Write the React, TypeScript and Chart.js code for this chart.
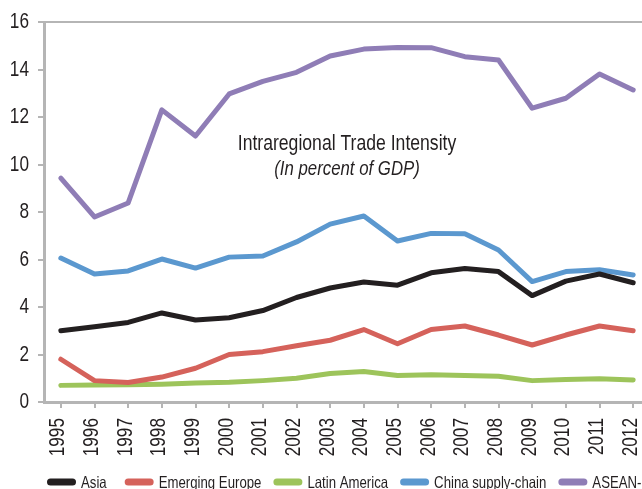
import React, { useEffect, useRef } from "react";
import { Chart, registerables } from "chart.js";

Chart.register(...registerables);

const years = ["1995","1996","1997","1998","1999","2000","2001","2002","2003","2004","2005","2006","2007","2008","2009","2010","2011","2012"];
const asia = [3.0, 3.17, 3.35, 3.75, 3.45, 3.55, 3.85, 4.4, 4.8, 5.05, 4.92, 5.44, 5.62, 5.49, 4.48, 5.09, 5.39, 5.02];
const emergingEurope = [1.8, 0.9, 0.82, 1.05, 1.42, 2.0, 2.12, 2.37, 2.6, 3.05, 2.45, 3.05, 3.2, 2.82, 2.4, 2.82, 3.2, 3.0];
const latinAmerica = [0.7, 0.72, 0.73, 0.75, 0.8, 0.83, 0.9, 1.0, 1.2, 1.28, 1.12, 1.15, 1.12, 1.08, 0.9, 0.95, 0.98, 0.93];
const chinaSupply = [6.06, 5.39, 5.52, 6.02, 5.64, 6.1, 6.15, 6.74, 7.49, 7.83, 6.78, 7.1, 7.08, 6.4, 5.07, 5.49, 5.57, 5.35];
const asean5 = [9.43, 7.79, 8.38, 12.3, 11.2, 12.97, 13.5, 13.88, 14.57, 14.86, 14.93, 14.92, 14.54, 14.4, 12.37, 12.79, 13.81, 13.14];

const seriesNames = ["Asia", "Emerging Europe", "Latin America", "China supply-chain", "ASEAN-5"];
const seriesColors = ["#231f20", "#d5625b", "#9dc45b", "#5b98cf", "#8f7db6"];
const seriesData = [asia, emergingEurope, latinAmerica, chinaSupply, asean5];

const titleLine1 = "Intraregional Trade Intensity";
const titleLine2 = "(In percent of GDP)";

const FONT = '"Liberation Sans", Arial, sans-serif';
const SX = 0.8; // horizontal compression to imitate a condensed face
const GRAY = "#b5b5b5";
const TEXT = "#231f20";

function drawText(ctx: any, text: string, x: number, y: number, opts: { align: string; baseline?: string; rot?: number; font: string }) {
  ctx.save();
  ctx.translate(x, y);
  if (opts.rot) ctx.rotate(opts.rot);
  ctx.scale(SX, 1);
  ctx.font = opts.font;
  ctx.textAlign = opts.align;
  ctx.textBaseline = opts.baseline || "alphabetic";
  ctx.fillText(text, 0, 0);
  ctx.restore();
}

const overlayPlugin = {
  id: "overlay",
  afterDraw(chart: any) {
    const { ctx, chartArea } = chart;
    const xs = chart.scales.x;
    const ys = chart.scales.y;
    ctx.save();
    // top border
    ctx.strokeStyle = GRAY;
    ctx.lineWidth = 2;
    ctx.beginPath();
    ctx.moveTo(chartArea.left - 1.5, chartArea.top);
    ctx.lineTo(chartArea.right, chartArea.top);
    ctx.stroke();
    ctx.fillStyle = TEXT;
    // y tick labels
    ys.ticks.forEach((t: any, i: number) => {
      const py = ys.getPixelForTick(i);
      drawText(ctx, String(t.value), chartArea.left - 15, py + 0.5, { align: "right", baseline: "middle", font: `21.5px ${FONT}` });
    });
    // x tick labels
    years.forEach((lab, i) => {
      const px = xs.getPixelForTick(i);
      drawText(ctx, lab, px - 2.5, chartArea.bottom + 16, { align: "right", baseline: "middle", rot: -Math.PI / 2, font: `21.5px ${FONT}` });
    });
    // title
    const cx = (chartArea.left + chartArea.right) / 2;
    drawText(ctx, titleLine1, cx, chartArea.top + 128, { align: "center", font: `22px ${FONT}` });
    drawText(ctx, titleLine2, cx, chartArea.top + 153, { align: "center", font: `italic 21px ${FONT}` });
    // legend
    let lx = 47;
    const ly = 482;
    const lfont = `16.5px ${FONT}`;
    seriesNames.forEach((n, i) => {
      ctx.strokeStyle = seriesColors[i];
      ctx.lineWidth = 7;
      ctx.lineCap = "round";
      ctx.beginPath();
      ctx.moveTo(lx + 3.5, ly);
      ctx.lineTo(lx + 29 - 3.5, ly);
      ctx.stroke();
      lx += 34;
      ctx.fillStyle = TEXT;
      drawText(ctx, n, lx, ly + 6, { align: "left", font: lfont });
      ctx.font = lfont;
      lx += ctx.measureText(n).width * SX + (i === 0 ? 18 : 12);
    });
    ctx.restore();
  },
};

export default function App() {
  const ref = useRef<HTMLCanvasElement | null>(null);
  useEffect(() => {
    if (!ref.current) return;
    const chart = new Chart(ref.current, {
      type: "line",
      data: {
        labels: years,
        datasets: seriesData.map((d, i) => ({
          label: seriesNames[i],
          data: d,
          borderColor: seriesColors[i],
          backgroundColor: seriesColors[i],
          borderWidth: 5,
          pointRadius: 0,
          tension: 0,
          borderCapStyle: "round" as const,
          borderJoinStyle: "round" as const,
          fill: false,
        })),
      },
      options: {
        responsive: false,
        animation: false,
        layout: { padding: { top: 22, left: 0, right: 0, bottom: 19 } },
        plugins: { legend: { display: false }, tooltip: { enabled: false }, title: { display: false } },
        scales: {
          x: {
            offset: true,
            grid: { drawOnChartArea: false, drawTicks: true, tickLength: 6, color: GRAY, lineWidth: 2 },
            border: { display: true, color: GRAY, width: 3 },
            ticks: { display: false, autoSkip: false },
            afterFit(scale: any) { scale.height = 68; },
          },
          y: {
            min: 0,
            max: 16,
            grid: { drawOnChartArea: false, drawTicks: true, tickLength: 6, color: GRAY, lineWidth: 2 },
            border: { display: true, color: GRAY, width: 3 },
            ticks: { display: false, stepSize: 2 },
            afterFit(scale: any) { scale.width = 44; },
          },
        },
      },
      plugins: [overlayPlugin],
    });
    return () => chart.destroy();
  }, []);

  return (
    <div style={{ position: "fixed", left: 0, top: 0, width: 642, height: 489, overflow: "hidden", background: "#fff" }}>
      <canvas ref={ref} width={650} height={489} style={{ display: "block", position: "absolute", left: 0, top: 0 }} />
    </div>
  );
}
